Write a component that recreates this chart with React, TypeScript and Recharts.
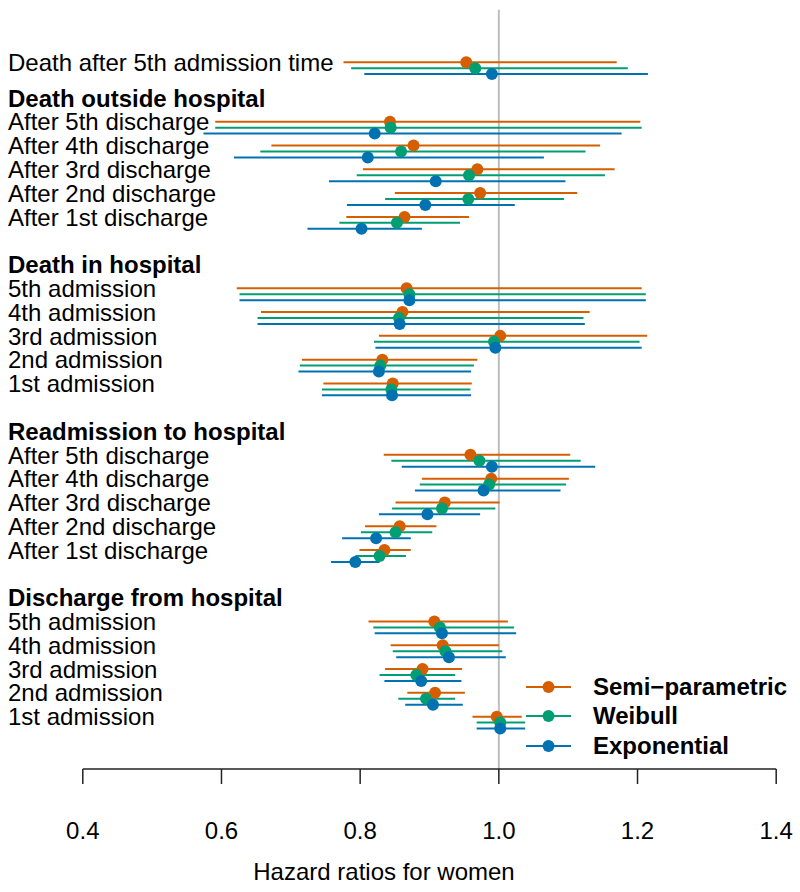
import React from "react";
import {
  ComposedChart,
  ErrorBar,
  Legend,
  ReferenceLine,
  Scatter,
  XAxis,
  YAxis
} from "recharts";

const rowLabels = [
  "Death after 5th admission time",
  "After 5th discharge",
  "After 4th discharge",
  "After 3rd discharge",
  "After 2nd discharge",
  "After 1st discharge",
  "5th admission",
  "4th admission",
  "3rd admission",
  "2nd admission",
  "1st admission",
  "After 5th discharge",
  "After 4th discharge",
  "After 3rd discharge",
  "After 2nd discharge",
  "After 1st discharge",
  "5th admission",
  "4th admission",
  "3rd admission",
  "2nd admission",
  "1st admission"
];
// row slots, top to bottom
const rowSlots = [-2.5, 0, 1, 2, 3, 4, 7, 8, 9, 10, 11, 14, 15, 16, 17, 18, 21, 22, 23, 24, 25];

const headerLabels = [
  "Death outside hospital",
  "Death in hospital",
  "Readmission to hospital",
  "Discharge from hospital"
];
const headerSlots = [-1, 6, 13, 20];

const xTicks = [0.4, 0.6, 0.8, 1.0, 1.2, 1.4];

const semiEst = [0.953, 0.843, 0.877, 0.969, 0.973, 0.864, 0.867, 0.861, 1.002, 0.832, 0.847, 0.959, 0.989, 0.922, 0.857, 0.835, 0.907, 0.919, 0.890, 0.908, 0.997];
const semiLo = [0.776, 0.591, 0.672, 0.804, 0.850, 0.780, 0.622, 0.657, 0.827, 0.716, 0.747, 0.834, 0.889, 0.851, 0.807, 0.799, 0.812, 0.844, 0.836, 0.868, 0.962];
const semiHi = [1.170, 1.204, 1.146, 1.167, 1.113, 0.957, 1.206, 1.131, 1.214, 0.969, 0.961, 1.103, 1.101, 1.001, 0.910, 0.873, 1.013, 1.000, 0.947, 0.951, 1.033];

const weibullEst = [0.966, 0.844, 0.859, 0.957, 0.956, 0.853, 0.871, 0.856, 0.993, 0.829, 0.845, 0.972, 0.986, 0.918, 0.851, 0.828, 0.915, 0.923, 0.881, 0.895, 1.002];
const weibullLo = [0.787, 0.591, 0.656, 0.795, 0.836, 0.770, 0.626, 0.652, 0.820, 0.713, 0.745, 0.845, 0.886, 0.846, 0.801, 0.793, 0.819, 0.847, 0.828, 0.855, 0.968];
const weibullHi = [1.186, 1.206, 1.125, 1.153, 1.094, 0.944, 1.212, 1.122, 1.203, 0.964, 0.959, 1.118, 1.097, 0.995, 0.904, 0.866, 1.022, 1.005, 0.937, 0.937, 1.038];

const expEst = [0.990, 0.821, 0.811, 0.909, 0.894, 0.802, 0.871, 0.857, 0.995, 0.827, 0.846, 0.990, 0.978, 0.897, 0.823, 0.793, 0.918, 0.928, 0.888, 0.905, 1.002];
const expLo = [0.806, 0.574, 0.618, 0.755, 0.781, 0.724, 0.626, 0.652, 0.822, 0.711, 0.745, 0.860, 0.879, 0.827, 0.774, 0.758, 0.821, 0.852, 0.835, 0.865, 0.968];
const expHi = [1.215, 1.177, 1.065, 1.096, 1.023, 0.889, 1.212, 1.124, 1.206, 0.960, 0.960, 1.139, 1.089, 0.973, 0.873, 0.828, 1.025, 1.010, 0.946, 0.948, 1.038];

const FONT = "'Liberation Sans', Arial, Helvetica, sans-serif";

const series = [
  { name: "Semi\u2212parametric", color: "#D55E00", shift: 0, est: semiEst, lo: semiLo, hi: semiHi },
  { name: "Weibull", color: "#009E73", shift: 0.25, est: weibullEst, lo: weibullLo, hi: weibullHi },
  { name: "Exponential", color: "#0072B2", shift: 0.5, est: expEst, lo: expLo, hi: expHi }
];
const seriesOrder = series.map((s) => s.name);

function buildPoints(s: (typeof series)[number]) {
  return s.est.map((v, i) => ({
    x: v,
    y: rowSlots[i] + s.shift,
    err: [v - s.lo[i], s.hi[i] - v]
  }));
}

const allSlots = [...headerSlots, ...rowSlots].sort((a, b) => a - b);

function RowTick(props: any) {
  const { y, payload } = props;
  const h = headerSlots.indexOf(payload.value);
  const r = rowSlots.indexOf(payload.value);
  const text = h >= 0 ? headerLabels[h] : rowLabels[r];
  return (
    <text
      x={8}
      y={y}
      dy="0.36em"
      fontSize={24}
      fontFamily={FONT}
      fontWeight={h >= 0 ? "bold" : "normal"}
      fill="#000"
    >
      {text}
    </text>
  );
}

function LegendBox(props: any) {
  const payload = [...(props.payload ?? [])].sort(
    (a: any, b: any) => seriesOrder.indexOf(a.value) - seriesOrder.indexOf(b.value)
  );
  return (
    <div style={{ display: "flex", flexDirection: "column" }}>
      {payload.map((entry: any) => (
        <div key={entry.value} style={{ display: "flex", alignItems: "center", height: 29.7 }}>
          <svg width={45} height={14}>
            <line x1={0} y1={7} x2={45} y2={7} stroke={entry.color} strokeWidth={2} />
            <circle cx={22.5} cy={7} r={6} fill={entry.color} />
          </svg>
          <span style={{ marginLeft: 22, fontWeight: "bold", fontSize: 24, lineHeight: 1, fontFamily: FONT, color: "#000" }}>
            {entry.value}
          </span>
        </div>
      ))}
    </div>
  );
}

function AxisTitle(props: any) {
  const { viewBox } = props;
  return (
    <text
      x={viewBox.x + viewBox.width / 2 - 45.5}
      y={879.6}
      textAnchor="middle"
      fontSize={24}
      fontFamily={FONT}
      fill="#000"
    >
      Hazard ratios for women
    </text>
  );
}

export default function App() {
  return (
    <div style={{ position: "absolute", left: 0, top: 0, width: 800, height: 892, background: "#fff", fontFamily: FONT }}>
      <ComposedChart width={800} height={892} margin={{ top: 9.84, right: 23.8, left: 0, bottom: 33 }}>
        <XAxis
          type="number"
          dataKey="x"
          domain={[0.4, 1.4]}
          allowDataOverflow
          ticks={xTicks}
          interval={0}
          tickFormatter={(v: number) => v.toFixed(1)}
          height={90}
          tickSize={15}
          tickMargin={38}
          stroke="#222"
          strokeWidth={1.5}
          tick={{ fontSize: 24, fontFamily: FONT, fill: "#000" }}
          label={<AxisTitle />}
        />
        <YAxis
          type="number"
          dataKey="y"
          domain={[-4.7, 27.2]}
          allowDataOverflow
          reversed
          ticks={allSlots}
          interval={0}
          width={82.8}
          axisLine={false}
          tickLine={false}
          tick={<RowTick />}
        />
        <ReferenceLine x={1} stroke="#bebebe" strokeWidth={2} />
        {series.map((s) => (
          <Scatter
            key={s.name}
            name={s.name}
            data={buildPoints(s)}
            fill={s.color}
            isAnimationActive={false}
            shape={(p: any) => <circle cx={p.cx} cy={p.cy} r={6} fill={s.color} />}
          >
            <ErrorBar dataKey="err" direction="x" width={0} stroke={s.color} strokeWidth={2} />
          </Scatter>
        ))}
        <Legend
          layout="horizontal"
          verticalAlign="middle"
          align="center"
          content={<LegendBox />}
          wrapperStyle={{ left: 526, top: 671.85, width: 274 }}
        />
      </ComposedChart>
    </div>
  );
}
